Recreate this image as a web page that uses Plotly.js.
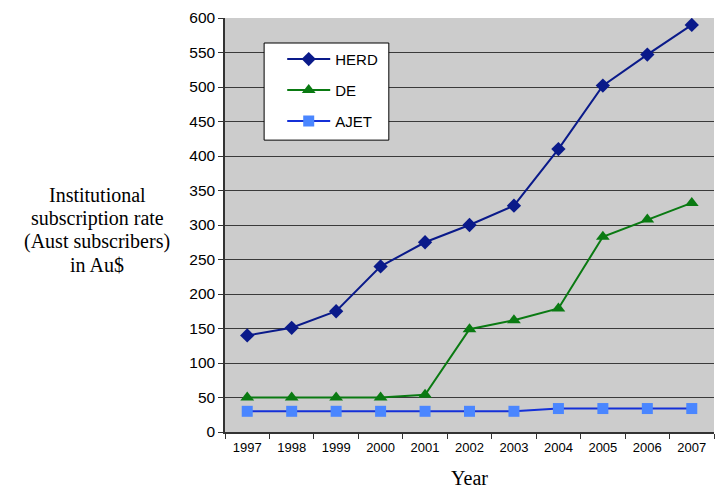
<!DOCTYPE html>
<html><head><meta charset="utf-8">
<script src="https://cdn.plot.ly/plotly-3.0.1.min.js"></script>
<style>html,body{margin:0;padding:0;background:#fff}#c{width:715px;height:493px}</style>
</head><body><div id="c"></div>
<script>
const years = ["1997","1998","1999","2000","2001","2002","2003","2004","2005","2006","2007"];
const herd = [140, 151, 175, 240, 275, 300, 328, 410, 502, 547, 590];
const de = [50, 50, 50, 50, 54, 149, 162, 179, 283, 308, 332];
const ajet = [30, 30, 30, 30, 30, 30, 30, 34, 34, 34, 34];
const yTicks = [0,50,100,150,200,250,300,350,400,450,500,550,600];
const yTitleLines = ["Institutional", "subscription rate", "(Aust subscribers)", "in Au$"];

const traces = [
  {x: years, y: herd, name: "HERD", type: "scatter", mode: "lines+markers", legendgroup: "a",
   line: {color: "#0A1A8A", width: 2}, marker: {symbol: "diamond", size: 11, color: "#0A1A8A"}},
  {x: years, y: de, name: "DE", type: "scatter", mode: "lines+markers", legendgroup: "b",
   line: {color: "#0A7A12", width: 2}, marker: {symbol: "triangle-up", size: 12, color: "#0A7A12"}},
  {x: years, y: ajet, name: "AJET", type: "scatter", mode: "lines+markers", legendgroup: "c",
   line: {color: "#1430D8", width: 2}, marker: {symbol: "square", size: 11, color: "#4A86FF"}}
];

const serif = "Liberation Serif, Times New Roman, serif";
const sans = "Liberation Sans, Arial, sans-serif";
const annotations = yTitleLines.map((t, i) => ({
  text: t, xref: "paper", yref: "paper", x: -0.261, y: 0.5725 - i * 0.0565,
  xanchor: "center", yanchor: "middle", showarrow: false,
  font: {family: serif, size: 20, color: "#000"}
}));

const layout = {
  width: 715, height: 493,
  margin: {l: 225, r: 1, t: 18, b: 61},
  paper_bgcolor: "#ffffff", plot_bgcolor: "#CCCCCC",
  showlegend: true,
  legend: {x: 0.117, y: 0.94, xanchor: "left", yanchor: "top",
    bgcolor: "rgba(0,0,0,0)", borderwidth: 0,
    font: {family: sans, size: 15, color: "#000"},
    traceorder: "grouped", tracegroupgap: 8.5, itemwidth: 43},
  shapes: [{type: "rect", xref: "paper", yref: "paper", x0: 0.080, x1: 0.335, y0: 0.705, y1: 0.9396,
    fillcolor: "#ffffff", line: {color: "#000000", width: 1}, layer: "above"}],
  xaxis: {type: "category", range: [-0.5, 10.5], tickson: "boundaries", ticks: "outside", ticklen: 5,
    tickcolor: "#333", showline: true, linecolor: "#333", linewidth: 1.5,
    showgrid: false, zeroline: false, ticklabelstandoff: 3,
    tickfont: {family: sans, size: 13, color: "#000"},
    title: {text: "Year", font: {family: serif, size: 20, color: "#000"}, standoff: 17}},
  yaxis: {range: [0, 600], tickvals: yTicks, ticks: "outside", ticklen: 5,
    tickcolor: "#333", showline: true, linecolor: "#333", linewidth: 1.5,
    showgrid: true, gridcolor: "#3a3a3a", gridwidth: 1, zeroline: false,
    tickfont: {family: sans, size: 15.5, color: "#000"}},
  annotations: annotations
};
Plotly.newPlot("c", traces, layout, {displayModeBar: false});
</script></body></html>
